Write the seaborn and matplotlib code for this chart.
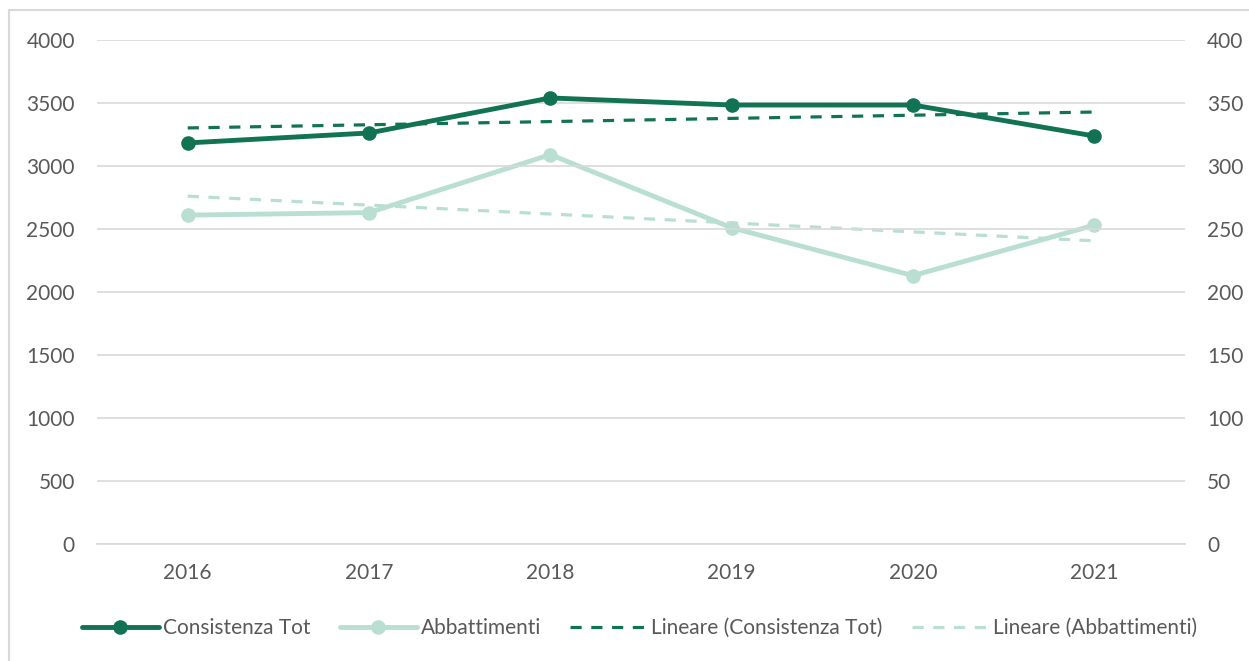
import matplotlib
matplotlib.use("Agg")
import matplotlib.pyplot as plt
from matplotlib.lines import Line2D
from matplotlib.patches import Rectangle
import numpy as np
import pandas as pd
import seaborn as sns

# ---------------------------------------------------------------------------
# Data
# ---------------------------------------------------------------------------
years = [2016, 2017, 2018, 2019, 2020, 2021]
consistenza = [3183, 3262, 3540, 3484, 3484, 3238]   # left axis
abbattimenti = [261, 263, 309, 251, 213, 253]        # right axis

left_ticks = [0, 500, 1000, 1500, 2000, 2500, 3000, 3500, 4000]
right_ticks = [0, 50, 100, 150, 200, 250, 300, 350, 400]

DARK = "#127254"
LIGHT = "#B8DFD2"
GRID = "#D9D9D9"
TEXT = "#595959"
FS = 15

df = pd.DataFrame({"anno": years, "cons": consistenza, "abb": abbattimenti})

sns.set_theme(style="white")
plt.rcParams["font.family"] = ["Lato", "DejaVu Sans"]

fig = plt.figure(figsize=(12.49, 6.61), dpi=100)
ax = fig.add_axes([0.0777, 0.177, 0.871, 0.7625])
ax2 = ax.twinx()

dash = (0, (3.5, 3))

# trend lines (linear fit, as Excel's "Lineare")
sns.regplot(data=df, x="anno", y="cons", ax=ax, scatter=False, ci=None,
            line_kws=dict(color=DARK, lw=2.3, linestyle=dash))
sns.regplot(data=df, x="anno", y="abb", ax=ax2, scatter=False, ci=None,
            line_kws=dict(color=LIGHT, lw=2.3, linestyle=dash))

sns.lineplot(data=df, x="anno", y="abb", ax=ax2, color=LIGHT, lw=3.5,
             marker="o", markersize=10.5, markeredgewidth=0)
sns.lineplot(data=df, x="anno", y="cons", ax=ax, color=DARK, lw=3.5,
             marker="o", markersize=10.5, markeredgewidth=0)
ax.set_zorder(ax2.get_zorder() + 1)
ax.patch.set_visible(False)

ax.set_xlim(2015.5, 2021.5)
ax.set_ylim(0, 4000)
ax2.set_ylim(0, 400)
ax.set_xticks(years)
ax.set_xticklabels([str(y) for y in years])
ax.set_yticks(left_ticks)
ax2.set_yticks(right_ticks)
ax.yaxis.grid(True, color=GRID, lw=1.2)
ax2.grid(False)
for a in (ax, ax2):
    a.set_xlabel("")
    a.set_ylabel("")
    for s in a.spines.values():
        s.set_visible(False)
    a.tick_params(length=0, labelsize=FS, colors=TEXT)
ax.tick_params(axis="x", pad=14)
ax.tick_params(axis="y", pad=16)
ax2.tick_params(axis="y", pad=16)
ax.spines["bottom"].set_visible(True)
ax.spines["bottom"].set_color(GRID)
ax.spines["bottom"].set_linewidth(1.2)

handles = [
    Line2D([], [], color=DARK, lw=3.5, marker="o", markersize=10.5, markeredgewidth=0),
    Line2D([], [], color=LIGHT, lw=3.5, marker="o", markersize=10.5, markeredgewidth=0),
    Line2D([], [], color=DARK, lw=2.3, linestyle=dash),
    Line2D([], [], color=LIGHT, lw=2.3, linestyle=dash),
]
labels = ["Consistenza Tot", "Abbattimenti", "Lineare (Consistenza Tot)",
          "Lineare (Abbattimenti)"]
fig.legend(handles, labels, loc="center", bbox_to_anchor=(0.512, 0.05), ncol=4,
           frameon=False, fontsize=FS, labelcolor=TEXT, handlelength=3.7,
           handletextpad=0.2, columnspacing=1.4)

# outer chart border
fig.add_artist(Rectangle((0.007, -0.01), 1.0, 0.995, transform=fig.transFigure,
                         fill=False, edgecolor=GRID, lw=1.5))

fig.savefig("out.png", dpi=100)
